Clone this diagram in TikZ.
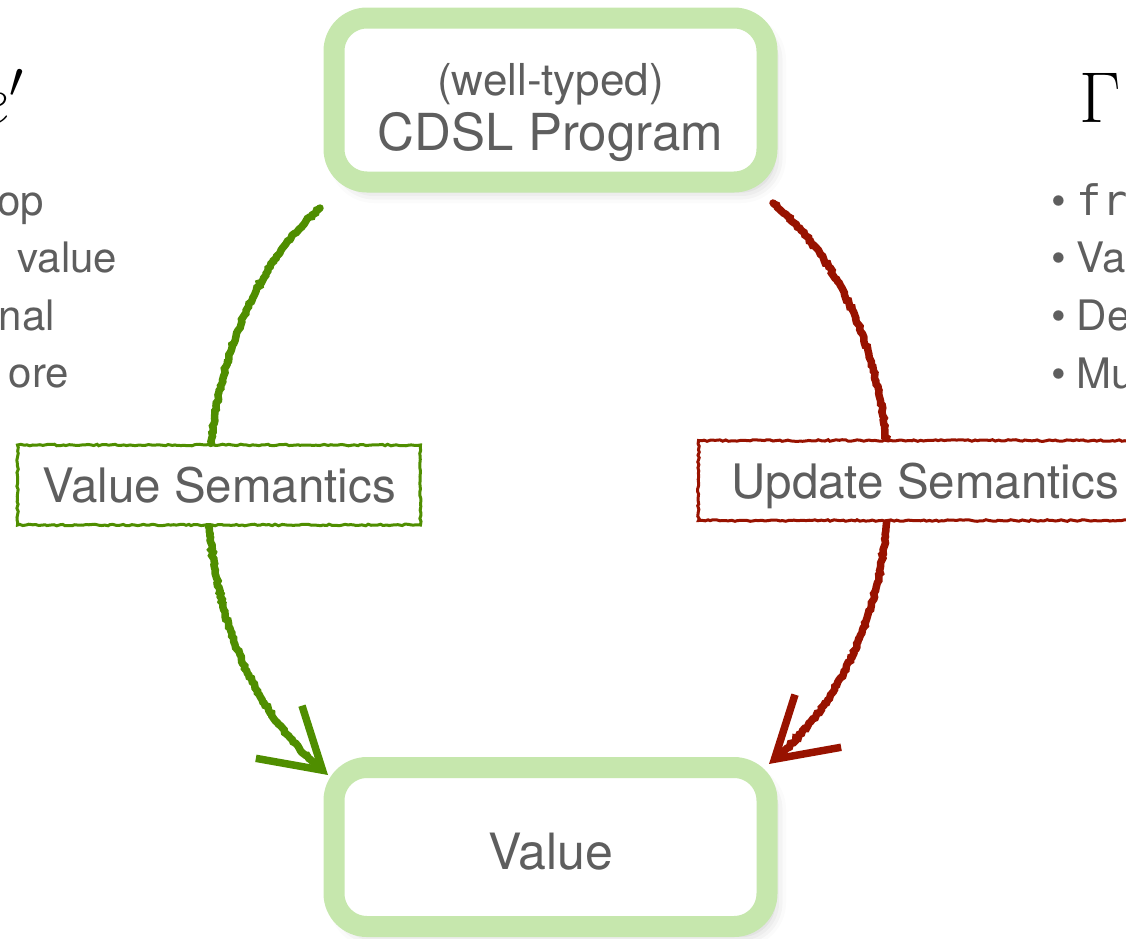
\RequirePackage{fix-cm}
\documentclass[tikz,border=0pt]{standalone}
\usepackage[no-math]{fontspec}
\setmainfont{TeX Gyre Heros}
\setsansfont{TeX Gyre Heros}
\setmonofont{DejaVu Sans Mono}
\usetikzlibrary{arrows.meta,decorations.pathmorphing,shadows.blur}

\definecolor{boxgreen}{HTML}{C6E7AD}
\definecolor{txtgray}{HTML}{5E5E5E}
\definecolor{semgreen}{HTML}{4F8E00}
\definecolor{semred}{HTML}{981200}

\tikzset{
  stagebox/.style={draw=boxgreen, line width=21pt, rounded corners=33pt,
    fill=white, minimum width=433pt, inner sep=0pt, outer sep=0pt,
    text=txtgray, align=center,
    blur shadow={shadow xshift=7pt, shadow yshift=-9pt,
      shadow blur radius=12pt, shadow opacity=22}},
  semlabel/.style={line width=3pt, fill=white, text=txtgray,
    font=\fontsize{47.5}{47.5}\selectfont, inner sep=0pt, outer sep=0pt,
    text depth=0pt, minimum height=80pt,
    decorate, decoration={random steps, segment length=3pt, amplitude=0.8pt}},
  semarrow/.style={line width=7.5pt, line cap=round,
    -{Straight Barb[length=58pt, width=70pt]},
    decorate, decoration={random steps, segment length=2.5pt,
      amplitude=1pt, pre length=2pt, post length=25pt}},
  sidetext/.style={text=txtgray, font=\fontsize{42}{42}\selectfont,
    inner sep=0pt, outer sep=0pt},
  mathbig/.style={font=\fontsize{72}{72}\selectfont, inner sep=0pt, outer sep=0pt}
}

\begin{document}
\begin{tikzpicture}[x=1pt, y=1pt]
\useasboundingbox (0,0) rectangle (1126,-938);
\clip (0,0) rectangle (1126,-938);

% the two stages of the program
\node[stagebox, minimum height=164pt] (prog) at (550.5,-100)
  {{\fontsize{44}{60}\selectfont\rule{0pt}{57pt}(well-typed)}\\[7pt]
   {\fontsize{51}{60}\selectfont CDSL Program}};
\node[stagebox, minimum height=159pt] (val) at (550.5,-847)
  {\fontsize{50}{50}\selectfont\rule{0pt}{46pt}Value};

% the two semantics as hand-drawn arcs
\draw[semarrow, semgreen]
  ([shift={(-14,-26)}]prog.south west)
  .. controls (180,-330) and (160,-640) ..
  ([shift={(-6,-7.5)}]val.north west);
\draw[semarrow, semred]
  ([shift={(6,-21)}]prog.south east)
  .. controls (920,-325) and (935,-630) ..
  ([shift={(2,3.5)}]val.north east);

% labels sitting on the arcs
\node[semlabel, draw=semgreen, minimum width=403pt] (vsem) at (219,-485)
  {Value Semantics};
\node[semlabel, draw=semred, minimum width=453pt] (usem) at (925,-480.5)
  {Update Semantics};

% left column
\node[mathbig, anchor=base west] (eprime) at (-23,-124) {$e'$};
\node[sidetext, anchor=base east] (l1) at (44,-215) {op};
\node[sidetext, anchor=base east] (l2) at (117,-272) {value};
\node[sidetext, anchor=base east] (l3) at (55,-330) {nal};
\node[sidetext, anchor=base east] (l4) at (69,-387) {ore};

% right column
\node[mathbig, anchor=base west] (gam) at (1079,-122) {$\Gamma$};
\node[sidetext, anchor=base west] (r1) at (1051,-215) {•\hspace{11pt}\texttt{fr}};
\node[sidetext, anchor=base west] (r2) at (1051,-272) {•\hspace{11pt}Va};
\node[sidetext, anchor=base west] (r3) at (1051,-330) {•\hspace{11pt}De};
\node[sidetext, anchor=base west] (r4) at (1051,-388) {•\hspace{11pt}Mu};
\end{tikzpicture}
\end{document}
